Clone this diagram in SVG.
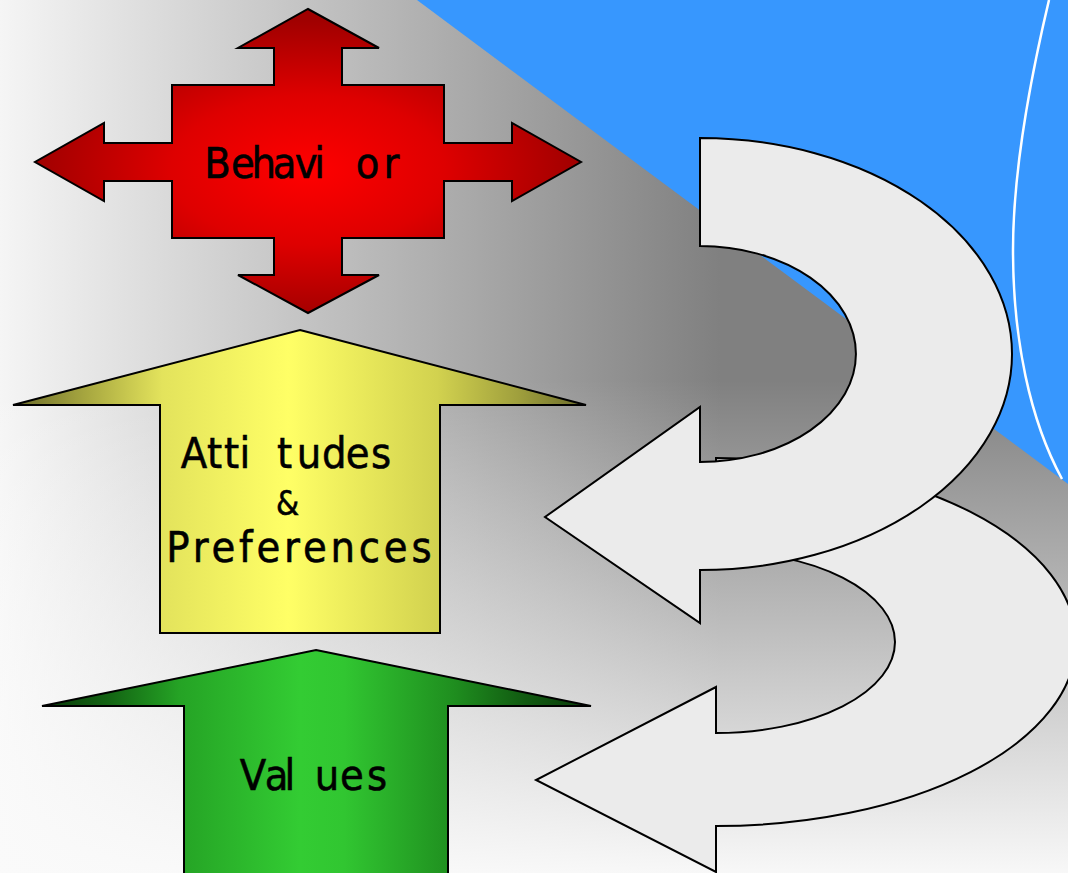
<svg xmlns="http://www.w3.org/2000/svg" width="1068" height="873" viewBox="0 0 1068 873">
  <defs>
    <linearGradient id="bgH" gradientUnits="userSpaceOnUse" x1="0" y1="0" x2="720" y2="0">
      <stop offset="0" stop-color="#f5f5f5"/>
      <stop offset="1" stop-color="#808080"/>
    </linearGradient>
    <linearGradient id="bgV" gradientUnits="userSpaceOnUse" x1="0" y1="380" x2="0" y2="873">
      <stop offset="0" stop-color="#ffffff" stop-opacity="0"/>
      <stop offset="1" stop-color="#fafafa" stop-opacity="0.98"/>
    </linearGradient>
    <radialGradient id="redG" gradientUnits="userSpaceOnUse" cx="308" cy="170" r="1" gradientTransform="translate(308 170) scale(273 150) translate(-308 -170)">
      <stop offset="0" stop-color="#ff0000"/>
      <stop offset="0.5" stop-color="#de0000"/>
      <stop offset="1" stop-color="#a00000"/>
    </radialGradient>
    <linearGradient id="yelG" gradientUnits="userSpaceOnUse" x1="13" y1="0" x2="586" y2="0">
      <stop offset="0" stop-color="#6b6b2b"/>
      <stop offset="0.13" stop-color="#a8a840"/>
      <stop offset="0.26" stop-color="#e3e35c"/>
      <stop offset="0.48" stop-color="#ffff66"/>
      <stop offset="0.74" stop-color="#d2d24f"/>
      <stop offset="0.88" stop-color="#a0a03d"/>
      <stop offset="1" stop-color="#6b6b2b"/>
    </linearGradient>
    <linearGradient id="grnG" gradientUnits="userSpaceOnUse" x1="42" y1="0" x2="591" y2="0">
      <stop offset="0" stop-color="#083808"/>
      <stop offset="0.12" stop-color="#136313"/>
      <stop offset="0.25" stop-color="#25a325"/>
      <stop offset="0.47" stop-color="#33cc33"/>
      <stop offset="0.55" stop-color="#31c631"/>
      <stop offset="0.75" stop-color="#1f8e1f"/>
      <stop offset="0.88" stop-color="#115a11"/>
      <stop offset="1" stop-color="#083808"/>
    </linearGradient>
  </defs>
  <style>
    .shape { stroke: #000000; stroke-width: 2; stroke-linejoin: miter; }
    .cyc { fill: #ebebeb; stroke: #000000; stroke-width: 2; stroke-linejoin: miter; }
    .lbl { font-family: "DejaVu Sans", "Verdana", sans-serif; font-size: 43px; fill: #000000; stroke: #000000; stroke-width: 0.6px; }
  </style>

  <g id="background">
    <rect x="0" y="0" width="1068" height="873" fill="url(#bgH)"/>
    <rect x="0" y="0" width="1068" height="873" fill="url(#bgV)"/>
    <polygon points="417,0 1068,0 1068,484" fill="#3797fe"/>
    <path d="M1049,0 C1030,80 1013,170 1013,250 C1013,340 1030,420 1062,479" fill="none" stroke="#ffffff" stroke-width="2.5"/>
  </g>

  <g id="connectors">
    <path id="cycle-lower" class="cyc" d="M716,458 A360,184 0 0 1 716,826 L716,872 L536,780 L716,687 L716,733 A179,91 0 0 0 716,551 Z"/>
    <path id="cycle-upper" class="cyc" d="M700,138 A312,216 0 0 1 700,570 L700,623 L545,517 L700,407 L700,462 A156,108 0 0 0 700,246 Z"/>
  </g>

  <g id="node-behavior">
    <polygon class="shape" fill="url(#redG)" points="308,9 379,48 342,48 342,85 444,85 444,143 512,143 512,123 581,162 512,201 512,181 444,181 444,238 342,238 342,275 379,275 308,313 238,275 274,275 274,238 172,238 172,181 104,181 104,201 35,162 104,123 104,143 172,143 172,85 274,85 274,48 238,48"/>
    <text class="lbl" transform="scale(0.9 1)" x="226.9 256.6 279.4 303 327.6 349.3 395.4 426.1" y="178">Behavior</text>
  </g>

  <g id="node-attitudes">
    <polygon class="shape" fill="url(#yelG)" points="300,330 586,405 440,405 440,633 160,633 160,405 13,405"/>
    <text class="lbl" transform="scale(0.9 1)" x="200.8 230 248.9 266 307.8 329.7 357.7 384.3 412.1" y="468">Attitudes</text>
    <text class="lbl" transform="scale(0.9 1)" x="306.7" y="515" style="font-size:33px">&amp;</text>
    <text class="lbl" transform="scale(0.9 1)" x="184.7" y="562" letter-spacing="4.2">Preferences</text>
  </g>

  <g id="node-values">
    <polygon class="shape" fill="url(#grnG)" points="316,650 591,706 448,706 448,880 184,880 184,706 42,706"/>
    <text class="lbl" transform="scale(0.9 1)" x="266.3 294.1 316 349.7 377.7 407.7" y="790">Values</text>
  </g>
</svg>
